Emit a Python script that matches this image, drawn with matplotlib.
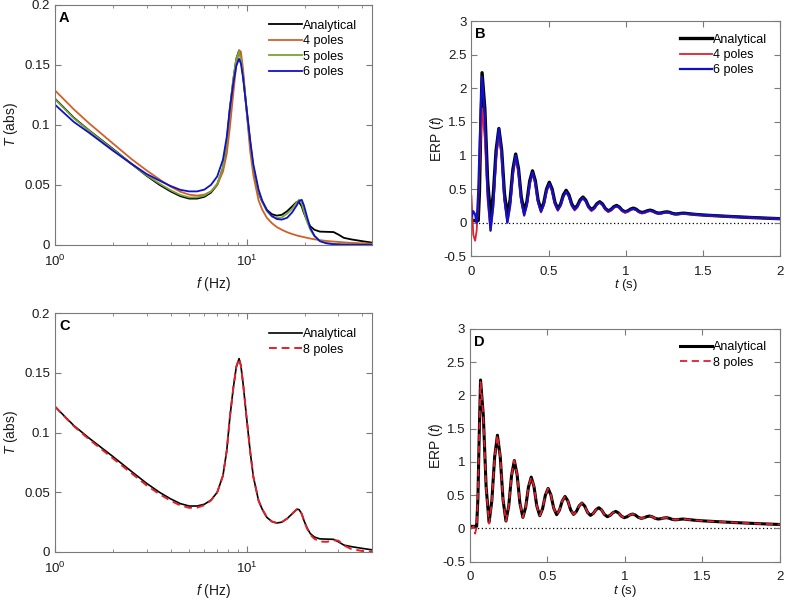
import matplotlib
matplotlib.use('Agg')
import matplotlib.pyplot as plt
from matplotlib.ticker import FormatStrFormatter, FixedLocator

plt.rcParams['font.family'] = ['Liberation Sans', 'DejaVu Sans']
plt.rcParams['mathtext.fontset'] = 'custom'
plt.rcParams['mathtext.rm'] = 'Liberation Sans'
plt.rcParams['mathtext.it'] = 'Liberation Sans:italic'
plt.rcParams['font.size'] = 8.5

# ---- transfer function |T(f)| (panels A and C) ----
freq = [1.0, 1.25, 1.5, 2.0, 2.5, 3.0, 3.5, 4.0, 4.5, 5.0, 5.5, 6.0, 6.5, 7.0, 7.5,
        7.85, 8.15, 8.5, 8.8, 9.1, 9.3, 9.55, 9.95, 10.4, 10.8, 11.5, 12.0, 12.7,
        13.5, 14.3, 15.2, 16.2, 17.2, 18.2, 18.7, 19.3, 19.8, 20.6, 21.4, 22.5,
        24.0, 26.0, 28.3, 30.0, 32.0, 35.0, 40.0, 45.0]

T_analytical = [0.1217, 0.106, 0.0955, 0.080, 0.0675, 0.0575, 0.050, 0.0445, 0.0405,
                0.0385, 0.0385, 0.040, 0.0435, 0.050, 0.064, 0.085, 0.113, 0.138,
                0.155, 0.162, 0.156, 0.141, 0.113, 0.084, 0.063, 0.043, 0.036, 0.029,
                0.0255, 0.0243, 0.025, 0.028, 0.032, 0.0358, 0.0355, 0.032, 0.0266,
                0.020, 0.0154, 0.0125, 0.011, 0.0108, 0.0106, 0.0085, 0.0058, 0.0045,
                0.003, 0.0018]

T_4poles = [0.1286, 0.113, 0.1014, 0.0845, 0.0715, 0.062, 0.0545, 0.0485, 0.0442,
            0.0418, 0.041, 0.0418, 0.0445, 0.050, 0.061, 0.076, 0.098, 0.127, 0.150,
            0.162, 0.161, 0.146, 0.112, 0.078, 0.058, 0.037, 0.0295, 0.0225, 0.018,
            0.0148, 0.0125, 0.0105, 0.009, 0.0078, 0.0073, 0.0068, 0.0064, 0.0058,
            0.0052, 0.0046, 0.0039, 0.0032, 0.0027, 0.0024, 0.002, 0.0016, 0.0012,
            0.0009]

T_5poles = [0.1213, 0.1055, 0.0952, 0.0795, 0.0675, 0.058, 0.051, 0.0455, 0.0415,
            0.0395, 0.0395, 0.041, 0.0445, 0.051, 0.065, 0.086, 0.114, 0.139, 0.155,
            0.161, 0.155, 0.141, 0.114, 0.086, 0.065, 0.044, 0.036, 0.028, 0.0235,
            0.0222, 0.0228, 0.026, 0.030, 0.0355, 0.0375, 0.0345, 0.028, 0.019,
            0.0125, 0.007, 0.0035, 0.0015, 0.0008, 0.0005, 0.0003, 0.0002, 0.0001, 0.0]

T_6poles = [0.1167, 0.1025, 0.0935, 0.0785, 0.0675, 0.059, 0.0535, 0.049, 0.0458,
            0.0445, 0.0445, 0.046, 0.050, 0.057, 0.071, 0.090, 0.114, 0.135, 0.149,
            0.155, 0.151, 0.139, 0.114, 0.087, 0.067, 0.046, 0.037, 0.029, 0.024,
            0.0215, 0.021, 0.0225, 0.027, 0.033, 0.0365, 0.0375, 0.033, 0.023, 0.014,
            0.0075, 0.003, 0.0012, 0.0005, 0.0003, 0.0002, 0.0001, 0.0, 0.0]

T_8poles = [0.1217, 0.1055, 0.0945, 0.0785, 0.066, 0.0558, 0.0485, 0.043, 0.039,
            0.037, 0.0372, 0.0392, 0.0432, 0.050, 0.064, 0.085, 0.113, 0.138, 0.155,
            0.162, 0.156, 0.141, 0.113, 0.084, 0.063, 0.043, 0.036, 0.029, 0.0255,
            0.0243, 0.025, 0.028, 0.032, 0.0358, 0.0355, 0.032, 0.0266, 0.0195,
            0.0145, 0.011, 0.0088, 0.0085, 0.0098, 0.0095, 0.0055, 0.0025, 0.0008,
            0.0003]

# ---- ERP(t) (panels B and D) ----
time = [0.0, 0.012, 0.024, 0.034, 0.044, 0.052, 0.060,
        0.069, 0.087, 0.105, 0.124, 0.142, 0.160,
        0.178, 0.196, 0.214, 0.233, 0.251, 0.269,
        0.287, 0.305, 0.323, 0.342, 0.360, 0.378,
        0.396, 0.414, 0.432, 0.451, 0.469, 0.487,
        0.505, 0.523, 0.541, 0.560, 0.578, 0.596,
        0.614, 0.632, 0.650, 0.669, 0.687, 0.705,
        0.723, 0.741, 0.759, 0.778, 0.796, 0.814,
        0.832, 0.850, 0.868, 0.887, 0.905, 0.923,
        0.941, 0.959, 0.977, 0.996, 1.014, 1.032,
        1.050, 1.068, 1.086, 1.105, 1.123, 1.141,
        1.159, 1.177, 1.195, 1.214, 1.232, 1.250,
        1.268, 1.286, 1.304, 1.323, 1.341, 1.359,
        1.377, 1.45, 1.5, 1.6, 1.7, 1.8, 1.9, 2.0]

erp_analytical = [0.03, 0.03, 0.03, 0.03, 0.03, 0.45, 1.35,
                  2.23, 1.695, 0.625, 0.09, 0.418, 1.073,
                  1.40, 1.078, 0.433, 0.11, 0.338, 0.793,
                  1.02, 0.806, 0.379, 0.165, 0.316, 0.619,
                  0.77, 0.625, 0.335, 0.19, 0.293, 0.498,
                  0.60, 0.501, 0.304, 0.205, 0.274, 0.411,
                  0.48, 0.413, 0.278, 0.21, 0.253, 0.338,
                  0.38, 0.334, 0.241, 0.195, 0.224, 0.281,
                  0.31, 0.276, 0.209, 0.175, 0.195, 0.235,
                  0.255, 0.231, 0.184, 0.16, 0.174, 0.201,
                  0.215, 0.199, 0.166, 0.15, 0.159, 0.176,
                  0.185, 0.174, 0.151, 0.14, 0.145, 0.155,
                  0.16, 0.152, 0.136, 0.128, 0.131, 0.137,
                  0.14, 0.122, 0.113, 0.10, 0.088, 0.077, 0.067, 0.058]

erp_4poles = [0.40, -0.18, -0.27, -0.12, 0.30, 0.80, 1.25,
              1.70, 1.245, 0.335, -0.12, 0.235, 0.945,
              1.30, 0.975, 0.325, 0.0, 0.238, 0.713,
              0.95, 0.738, 0.313, 0.10, 0.255, 0.565,
              0.72, 0.578, 0.293, 0.15, 0.253, 0.458,
              0.56, 0.464, 0.271, 0.175, 0.244, 0.381,
              0.45, 0.383, 0.248, 0.18, 0.225, 0.315,
              0.36, 0.313, 0.218, 0.17, 0.201, 0.264,
              0.295, 0.26, 0.19, 0.155, 0.176, 0.219,
              0.24, 0.216, 0.169, 0.145, 0.159, 0.186,
              0.20, 0.184, 0.151, 0.135, 0.144, 0.161,
              0.17, 0.16, 0.14, 0.13, 0.135, 0.145,
              0.15, 0.143, 0.128, 0.12, 0.123, 0.128,
              0.13, 0.118, 0.109, 0.097, 0.086, 0.075, 0.065, 0.056]

erp_6poles = [0.08, 0.17, 0.12, 0.0, 0.45, 1.05, 1.65,
              2.17, 1.60, 0.45, -0.12, 0.26, 1.02,
              1.40, 1.05, 0.35, 0.0, 0.25, 0.75,
              1.00, 0.778, 0.333, 0.11, 0.27, 0.59,
              0.75, 0.604, 0.311, 0.165, 0.269, 0.476,
              0.58, 0.483, 0.288, 0.19, 0.258, 0.393,
              0.46, 0.394, 0.261, 0.195, 0.238, 0.323,
              0.365, 0.32, 0.23, 0.185, 0.214, 0.271,
              0.30, 0.268, 0.203, 0.17, 0.189, 0.226,
              0.245, 0.224, 0.181, 0.16, 0.171, 0.194,
              0.205, 0.19, 0.16, 0.145, 0.153, 0.17,
              0.178, 0.167, 0.146, 0.135, 0.14, 0.15,
              0.155, 0.148, 0.133, 0.125, 0.128, 0.133,
              0.135, 0.123, 0.114, 0.101, 0.089, 0.078, 0.068, 0.059]

erp_8poles = [0.03, 0.0, 0.03, -0.08, 0.02, 0.50, 1.35,
              2.20, 1.69, 0.60, 0.07, 0.40, 1.07,
              1.40, 1.078, 0.433, 0.11, 0.338, 0.793,
              1.02, 0.806, 0.379, 0.165, 0.316, 0.619,
              0.77, 0.625, 0.335, 0.19, 0.293, 0.498,
              0.60, 0.501, 0.304, 0.205, 0.274, 0.411,
              0.48, 0.413, 0.278, 0.21, 0.253, 0.338,
              0.38, 0.334, 0.241, 0.195, 0.224, 0.281,
              0.31, 0.276, 0.209, 0.175, 0.195, 0.235,
              0.255, 0.231, 0.184, 0.16, 0.174, 0.201,
              0.215, 0.199, 0.166, 0.15, 0.159, 0.176,
              0.185, 0.174, 0.151, 0.14, 0.145, 0.155,
              0.16, 0.152, 0.136, 0.128, 0.131, 0.137,
              0.14, 0.122, 0.113, 0.10, 0.088, 0.077, 0.067, 0.058]

ORANGE = '#d0602a'
GREEN = '#77a535'
BLUE = '#1010c8'
RED = '#e0202a'
FRAME = '#7a7a7a'
TXT = '#1a1a1a'


def style_axes(ax, letter, xpad):
    for s in ax.spines.values():
        s.set_color(FRAME)
        s.set_linewidth(0.8)
    ax.tick_params(which='both', direction='in', top=True, right=True,
                   color=FRAME, labelcolor=TXT, labelsize=9.5)
    ax.tick_params(axis='y', pad=3.5)
    ax.tick_params(axis='x', pad=xpad)
    ax.tick_params(which='major', length=4)
    ax.tick_params(which='minor', length=2.5)
    ax.text(0.012, 0.975, letter, transform=ax.transAxes, fontweight='bold',
            fontsize=10.5, va='top', ha='left', color='k')


def freq_panel(ax, letter):
    ax.set_xscale('log')
    ax.set_xlim(1, 45)
    ax.set_ylim(0, 0.2)
    ax.xaxis.set_major_locator(FixedLocator([1, 10]))
    ax.set_xticklabels(['$10^0$', '$10^1$'])
    ax.xaxis.set_minor_locator(FixedLocator([2, 3, 4, 5, 6, 7, 8, 9, 20, 30, 40]))
    ax.xaxis.set_minor_formatter(plt.NullFormatter())
    ax.set_yticks([0, 0.05, 0.1, 0.15, 0.2])
    ax.yaxis.set_major_formatter(FormatStrFormatter('%g'))
    ax.set_xlabel('$f$ (Hz)', fontsize=10, labelpad=4, color=TXT)
    ax.set_ylabel('$T$ (abs)', fontsize=10, labelpad=3, color=TXT)
    style_axes(ax, letter, 6.5)
    ax.legend(loc='upper right', frameon=False, fontsize=9, handlelength=2.6,
              handletextpad=0.1, labelspacing=0.27, borderaxespad=0.8)


def time_panel(ax, letter):
    ax.axhline(0, color='k', ls=(0, (1, 2)), lw=0.9, zorder=1)
    ax.set_xlim(0, 2)
    ax.set_ylim(-0.5, 3)
    ax.set_xticks([0, 0.5, 1, 1.5, 2])
    ax.set_yticks([-0.5, 0, 0.5, 1, 1.5, 2, 2.5, 3])
    ax.xaxis.set_major_formatter(FormatStrFormatter('%g'))
    ax.yaxis.set_major_formatter(FormatStrFormatter('%g'))
    ax.set_xlabel('$t$ (s)', fontsize=9.5, labelpad=-0.5, color=TXT)
    ax.set_ylabel('ERP ($t$)', fontsize=10, labelpad=-2, color=TXT)
    style_axes(ax, letter, 7)
    ax.legend(loc='upper right', frameon=False, fontsize=9, handlelength=2.6,
              handletextpad=0.1, labelspacing=0.27, borderaxespad=0.6)


fig = plt.figure(figsize=(7.87, 6.0), dpi=100)
axA = fig.add_axes([0.070, 0.592, 0.403, 0.400])
axB = fig.add_axes([0.599, 0.573, 0.392, 0.392])
axC = fig.add_axes([0.070, 0.080, 0.403, 0.398])
axD = fig.add_axes([0.597, 0.064, 0.394, 0.388])

# A
axA.plot(freq, T_analytical, color='k', lw=1.3, label='Analytical')
axA.plot(freq, T_4poles, color=ORANGE, lw=1.3, label='4 poles')
axA.plot(freq, T_5poles, color=GREEN, lw=1.3, label='5 poles')
axA.plot(freq, T_6poles, color=BLUE, lw=1.3, label='6 poles')
freq_panel(axA, 'A')

# B
axB.plot(time, erp_analytical, color='k', lw=2.4, label='Analytical')
axB.plot(time, erp_4poles, color=RED, lw=1.3, label='4 poles')
axB.plot(time, erp_6poles, color=BLUE, lw=1.6, label='6 poles')
time_panel(axB, 'B')

# C
axC.plot(freq, T_analytical, color='k', lw=1.2, label='Analytical')
axC.plot(freq, T_8poles, color=RED, lw=1.4, ls=(0, (4, 2.5)), label='8 poles')
freq_panel(axC, 'C')

# D
axD.plot(time, erp_analytical, color='k', lw=2.2, label='Analytical')
axD.plot(time, erp_8poles, color=RED, lw=1.3, ls=(0, (4, 2.5)), label='8 poles')
time_panel(axD, 'D')

fig.savefig('out.png', dpi=100)
